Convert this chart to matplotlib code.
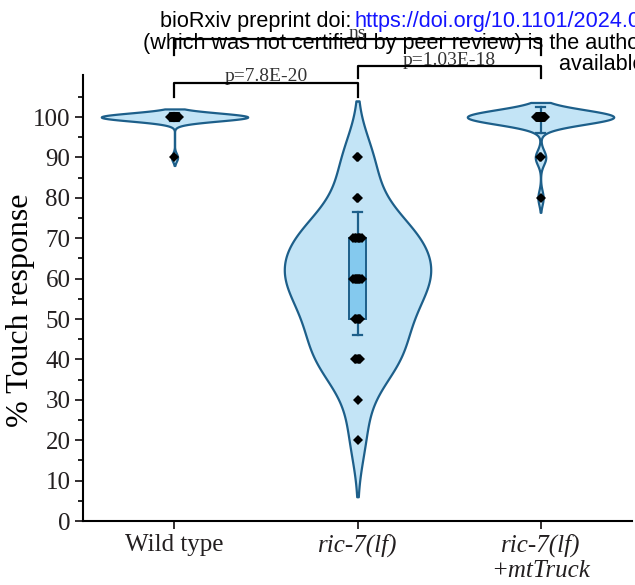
import numpy as np
import matplotlib.pyplot as plt

# ==========================
# Data
# ==========================

groups = ["Wild type", "ric-7(lf)", "ric-7(lf)\n+mtTruck"]
italic = [False, True, True]

# each trial scored as % touch response
wild_type = [100] * 24 + [90]
ric7 = [20, 30] + [40] * 5 + [50] * 5 + [60] * 8 + [70] * 7 + [80] * 2 + [90] * 2
ric7_mttruck = [100] * 28 + [90] * 2 + [80]
all_data = [wild_type, ric7, ric7_mttruck]

# error bar ends
err_low = [99, 46, 96]
err_high = [101, 76.5, 102.5]

# comparisons: (group a, group b, label)
comparisons = [(0, 1, "p=7.8E-20"), (1, 2, "p=1.03E-18"), (0, 2, "ns")]
bracket_y = [108.5, 112.6, 119.2]
bracket_drop = [3.5, 2.9, 3.9]

# ==========================
# Style
# ==========================

BW = [1.0, 7.0, 1.8]      # kde bandwidth per violin
CUT = 2.0
HALF_WIDTH = 0.4
BOX_HALF = 0.044
CAP_HALF = 0.027
VIOLIN_FILL = "#c3e4f6"
EDGE = "#1d5f8a"
BOX_FILL = "#84c9ee"
SERIF = ["Liberation Serif", "DejaVu Serif"]
SANS = ["Liberation Sans", "DejaVu Sans"]

plt.rcParams["font.family"] = SERIF

fig = plt.figure(figsize=(6.35, 5.85), dpi=100)
ax = fig.add_axes([0.1307, 0.1094, 0.8646, 0.7624])


def kde(values, bw, grid):
    values = np.asarray(values, dtype=float)
    z = (grid[:, None] - values[None, :]) / bw
    return np.exp(-0.5 * z ** 2).sum(axis=1)


for i, vals in enumerate(all_data):
    vals = np.asarray(vals, dtype=float)
    grid = np.linspace(vals.min() - CUT * BW[i], vals.max() + CUT * BW[i], 400)
    dens = kde(vals, BW[i], grid)
    dens = dens / dens.max() * HALF_WIDTH
    ax.fill_betweenx(grid, i - dens, i + dens, facecolor=VIOLIN_FILL,
                     edgecolor=EDGE, linewidth=1.6, zorder=1)

    # error bar
    ax.plot([i, i], [err_low[i], err_high[i]], color=EDGE, lw=1.6, zorder=2)
    for y in (err_low[i], err_high[i]):
        ax.plot([i - CAP_HALF, i + CAP_HALF], [y, y], color=EDGE, lw=1.6, zorder=2)

    # interquartile box
    q1, q3 = np.percentile(vals, [25, 75])
    ax.add_patch(plt.Rectangle((i - BOX_HALF, q1), 2 * BOX_HALF, q3 - q1,
                               facecolor=BOX_FILL, edgecolor=EDGE, lw=1.4, zorder=3))

    # individual points, nudged a little where they repeat
    uniq, counts = np.unique(vals, return_counts=True)
    for v, c in zip(uniq, counts):
        s = min(0.004 * (c - 1), 0.022)
        xs = i + np.linspace(-s, s, c)
        ax.plot(xs, [v] * c, "D", color="black", markersize=5,
                markeredgewidth=0, zorder=4)

# ==========================
# Significance brackets
# ==========================

for (a, b, label), y, d in zip(comparisons, bracket_y, bracket_drop):
    ax.plot([a, a, b, b], [y - d, y, y, y - d], color="black", lw=1.6,
            clip_on=False, zorder=5)
    ax.text((a + b) / 2, y + 0.35, label, ha="center", va="baseline",
            fontsize=14, color="#333333", clip_on=False)

# ==========================
# Axes
# ==========================

ax.set_xlim(-0.5, 2.5)
ax.set_ylim(0, 110.4)
ax.set_yticks(np.arange(0, 101, 10))
ax.set_yticks(np.arange(5, 106, 10), minor=True)
ax.set_xticks(range(len(groups)))
ax.set_xticklabels(groups)
for lab, it in zip(ax.get_xticklabels(), italic):
    lab.set_fontstyle("italic" if it else "normal")

ax.spines["top"].set_visible(False)
ax.spines["right"].set_visible(False)
ax.spines["left"].set_linewidth(1.5)
ax.spines["bottom"].set_linewidth(1.5)
ax.tick_params(axis="both", which="major", length=6, width=1.3,
               labelsize=18, pad=3, colors="#231f20")
ax.tick_params(axis="y", which="minor", length=3.5, width=1.2)
ax.set_ylabel("% Touch response", fontsize=23, va="center")
ax.yaxis.set_label_coords(-0.113, 0.473)

# ==========================
# Preprint header overlay
# ==========================

fig.text(160 / 635, 1 - 22 / 585, "bioRxiv preprint doi: ", family=SANS,
         fontsize=15.6, va="center", ha="left")
fig.text(355 / 635, 1 - 22 / 585, "https://doi.org/10.1101/2024.01.01.000000",
         family=SANS, fontsize=15.6, va="center", ha="left", color="#1414ff")
fig.text(143 / 635, 1 - 44 / 585,
         "(which was not certified by peer review) is the author/funder",
         family=SANS, fontsize=15.6, va="center", ha="left")
fig.text(559 / 635, 1 - 64 / 585, "available under a", family=SANS,
         fontsize=15.6, va="center", ha="left")

fig.savefig("out.png", dpi=100)
